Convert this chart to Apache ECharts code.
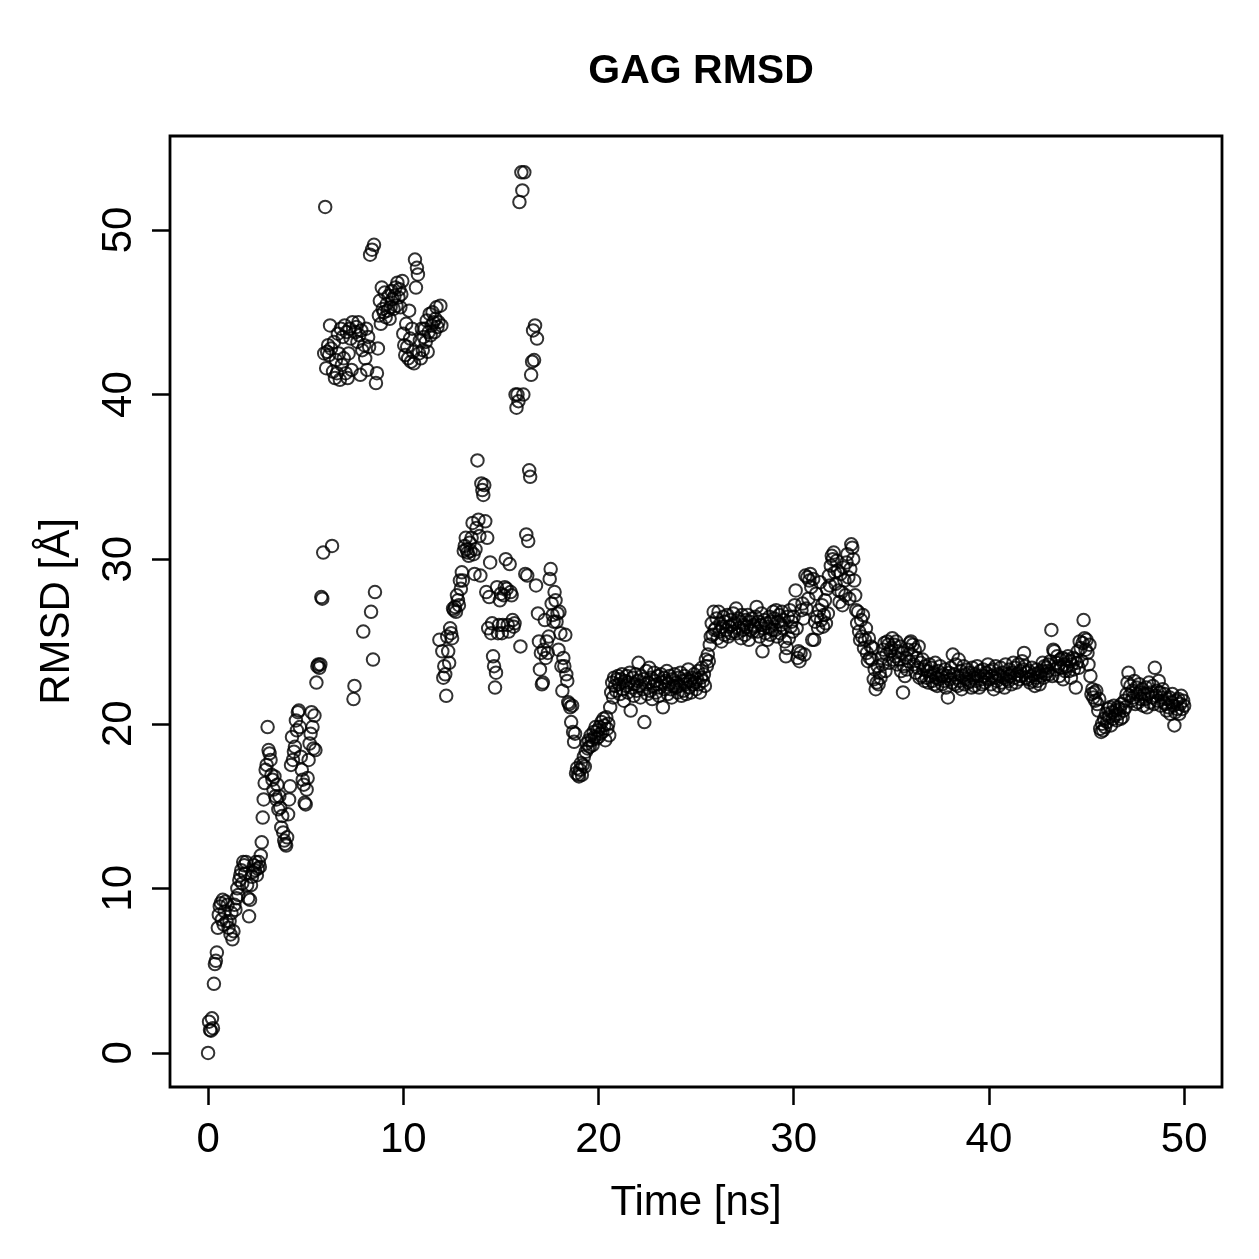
<!DOCTYPE html>
<html>
<head>
<meta charset="utf-8">
<script src="https://cdn.jsdelivr.net/npm/echarts@6/dist/echarts.min.js"></script>
<style>
  html, body { margin: 0; padding: 0; background: #fff; }
  #chart { width: 1259px; height: 1259px; }
</style>
</head>
<body>
<div id="chart"></div>
<script>
// RMSD sampled every 0.05 ns, one array per time block (start time in the name)
const step = 0.05;
const rmsd_00 = [
  0, 1.9, 1.4, 1.35, 2.1, 1.5, 4.2, 5.4, 5.6, 6.1, 7.6, 8.4, 8.9, 9.1, 8.1, 9.3, 7.8, 8.6, 9.2, 8.0,
  9.0, 7.6, 8.0, 7.2, 8.5, 6.9, 7.4, 9.0, 8.7, 9.4, 10.0, 9.6, 10.5, 10.8, 11.1, 10.3, 11.6, 11.4, 10.9, 11.6,
  10.2, 9.4, 8.3, 9.3, 10.2, 10.7, 11.0, 11.4, 11.1, 11.6, 10.8, 11.2, 11.6, 11.3, 12.0, 12.8, 14.3, 15.4, 16.4, 17.2,
  17.5, 19.8, 18.4, 18.2, 17.8, 16.9, 16.6, 16.0, 16.8, 15.6, 15.4, 16.3, 14.8, 15.6, 14.9, 13.7, 14.4, 13.4, 12.9, 12.7,
  12.6, 13.1, 14.5, 15.4, 16.2, 17.5, 19.2, 17.8, 18.3, 18.6, 20.2, 19.6, 20.7, 20.8, 19.8, 18.0, 17.2, 16.6, 16.3, 15.2,
  15.1, 16.0, 16.7, 17.8, 18.8, 19.4, 20.7, 19.8, 18.5, 20.5, 18.4, 22.5, 23.5, 23.6, 23.4, 23.6, 27.7, 27.6, 30.4, 42.5
];
const rmsd_06 = [
  51.4, 41.6, 42.6, 43.0, 42.4, 44.2, 42.8, 30.8, 41.4, 43.2, 41.0, 42.1, 41.3, 43.7, 42.5, 40.9, 44.0, 41.8, 43.5, 42.2,
  44.2, 41.3, 43.8, 41.0, 42.5, 44.0, 43.4, 41.5, 44.4, 21.5, 22.3, 43.8, 44.1, 43.2, 44.4, 43.6, 41.2, 43.9, 42.7, 25.6,
  43.0, 42.2, 44.0, 41.5, 43.5, 42.9, 48.5, 26.8, 48.8, 23.9, 49.1, 28.0, 40.7, 41.3, 42.8, 44.8, 45.7, 44.3, 46.5, 45.2,
  45.0, 46.2, 44.7, 45.5, 45.1, 46.0, 44.6, 45.3, 46.3, 45.8, 45.2, 46.0, 46.5, 45.4, 46.8, 45.9, 46.4, 45.3, 46.1, 46.9,
  43.7, 43.0, 42.4, 44.3, 42.9, 42.2, 45.1, 43.4, 42.0, 44.0, 42.6, 41.9, 48.2, 46.5, 47.7, 47.3, 42.5, 43.3, 42.2, 44.0,
  42.7, 43.5, 44.0, 43.2, 44.5, 42.6, 43.8, 44.9, 43.6, 44.2, 45.0, 44.4, 43.8, 44.6, 45.3, 44.1, 44.4, 25.1, 45.4, 44.2
];
const rmsd_12 = [
  24.4, 22.8, 23.5, 23.0, 21.7, 25.3, 24.4, 23.7, 25.8, 25.5, 25.2, 27.0, 26.9, 27.1, 26.8, 27.8, 27.5, 27.2, 28.7, 28.2,
  29.2, 28.7, 30.5, 30.8, 31.3, 30.6, 30.4, 30.2, 31.0, 30.5, 31.3, 32.2, 30.3, 29.1, 30.6, 31.9, 36.0, 32.4, 31.4, 29.0,
  34.6, 34.2, 33.9, 34.5, 32.3, 28.0, 31.3, 25.8, 27.7, 29.8, 25.5, 26.1, 24.1, 23.5, 22.2, 23.1, 28.3, 25.5, 26.0, 27.5,
  27.9, 25.5, 26.0, 27.8, 28.3, 30.0, 28.2, 26.0, 25.6, 29.7, 28.0, 27.8, 26.3, 25.9, 26.1, 40.0, 39.2, 40.0, 39.6, 51.7,
  24.7, 53.5, 52.4, 40.0, 53.5, 29.1, 31.5, 29.0, 31.1, 35.4, 35.0, 41.2, 42.0, 43.9, 42.1, 44.2, 28.4, 43.4, 26.7, 25.0,
  23.3, 24.3, 22.4, 22.5, 24.5, 26.3, 24.0, 25.0, 24.3, 25.3, 28.8, 29.4, 27.3, 26.6, 26.2, 28.0, 27.5, 26.2, 26.7, 24.5,
  26.8, 25.5, 23.5, 22.0, 24.0, 23.5, 25.4, 23.0, 22.6, 21.3, 21.2, 21.0, 20.1, 21.1, 19.5, 18.9, 19.4, 17.0, 17.3, 16.9
];
const rmsd_19 = [
  16.8, 17.2, 17.6, 16.9, 17.5, 18.0, 17.4, 18.3, 18.8, 18.5, 19.0, 18.6, 19.3, 19.0, 18.7, 19.5, 19.2, 19.8, 19.1, 19.6,
  19.2, 19.8, 19.4, 20.1, 19.5, 20.3, 19.9, 19.0, 20.4, 19.7, 20.0, 19.3, 21.0, 21.9, 22.5, 21.6, 22.8, 22.3, 22.0, 22.7,
  22.9, 22.4, 21.8, 22.7, 23.0, 22.1, 21.4, 22.6, 22.3, 22.9, 21.9, 22.5, 23.1, 20.8, 22.2, 22.8, 21.7, 22.4, 23.0, 22.0,
  22.6, 23.7, 22.3, 21.6, 22.9, 22.1, 22.7, 20.1, 22.4, 23.2, 21.8, 22.5, 23.4, 22.0, 22.8, 21.5, 22.3, 23.1, 22.6, 21.9,
  22.4, 22.9, 21.7, 22.2, 23.0, 22.5, 21.0, 22.8, 22.1, 22.6, 23.2, 21.8, 22.4, 22.9, 22.1, 21.6, 22.7, 22.3, 23.0, 22.2,
  22.5, 21.9, 22.8, 22.3, 23.1, 21.7, 22.6, 22.0, 22.9, 22.4, 21.8, 22.7, 23.3, 22.2, 22.6, 21.9, 22.8, 22.4, 23.0, 22.5,
  22.1, 22.7, 23.2, 22.4, 21.9, 22.8, 23.4, 22.6, 23.0, 22.3, 23.9, 23.5, 24.2, 23.8, 24.8, 25.3, 26.1, 25.4, 26.8, 25.7
];
const rmsd_26 = [
  25.8, 26.4, 25.2, 26.8, 25.6, 26.1, 25.0, 25.9, 26.5, 25.4, 26.2, 25.7, 26.6, 25.3, 25.9, 26.3, 25.5, 26.0, 26.7, 25.6,
  26.1, 27.0, 25.5, 26.4, 25.8, 26.2, 25.2, 26.6, 25.7, 26.0, 25.4, 26.3, 25.9, 26.6, 25.1, 26.2, 25.7, 26.4, 25.6, 26.0,
  25.9, 26.5, 27.1, 25.6, 26.2, 25.3, 26.0, 26.7, 24.4, 25.8, 26.3, 25.5, 26.1, 25.1, 25.9, 26.5, 25.4, 26.2, 25.7, 26.8,
  26.4, 25.7, 26.9, 25.3, 26.2, 26.6, 25.5, 26.0, 26.8, 25.8, 26.3, 25.0, 24.1, 24.6, 26.5, 25.2, 26.9, 25.9, 26.2, 25.6,
  26.5, 27.2, 28.1, 25.8, 24.0, 24.4, 23.8, 24.3, 26.9, 27.3, 26.4, 24.2, 29.0, 27.0, 28.9, 27.6, 28.7, 29.1, 28.3, 25.1,
  28.8, 25.1, 26.2, 27.9, 26.5, 25.8, 26.9, 28.6, 26.3, 27.2, 25.9, 26.6, 27.5, 26.1, 28.2, 26.7, 29.0, 28.4, 29.6, 30.2,
  30.0, 30.4, 29.2, 28.5, 29.9, 29.3, 28.1, 27.4, 29.1, 28.0, 27.2, 29.5, 28.7, 27.8, 29.8, 30.3, 28.9, 27.6, 29.4, 30.9,
  30.7, 30.0, 28.7, 27.8, 26.9, 26.1, 26.8, 25.6, 25.1, 26.3, 25.3, 26.6, 24.6, 25.1, 25.8, 24.3, 23.8, 25.2, 24.0, 24.7
];
const rmsd_34 = [
  23.9, 24.6, 22.7, 23.3, 22.1, 22.5, 23.5, 22.4, 23.1, 22.8, 24.0, 23.6, 24.5, 24.9, 23.2, 24.2, 25.0, 24.8, 23.7, 24.4,
  24.6, 25.2, 23.9, 24.8, 24.1, 25.0, 23.6, 24.4, 23.9, 24.7, 23.2, 24.3, 21.9, 23.5, 22.9, 24.0, 23.3, 24.5, 23.8, 24.9,
  25.0, 24.2, 24.8, 23.6, 24.5, 23.1, 24.0, 23.4, 24.7, 22.8, 23.7, 22.9, 23.9, 23.3, 22.6, 23.5, 22.8, 23.2, 22.5, 23.6,
  22.9, 23.4, 22.6, 23.1, 22.4, 23.7, 22.8, 22.3, 23.2, 22.7, 23.5, 22.9, 22.4, 23.0, 22.6, 23.3, 22.2, 22.9, 21.6, 23.1,
  22.7, 23.4, 22.5, 24.2, 23.0, 22.4, 23.6, 22.8, 22.3, 23.9, 22.6, 23.2, 22.1, 22.9, 23.5, 22.4, 23.0, 22.7, 23.3, 22.5,
  23.1, 22.6, 22.2, 23.4, 22.8, 22.3, 23.0, 22.6, 23.5, 22.9, 22.2, 23.2, 22.7, 22.4, 23.3, 22.9, 22.5, 23.1, 22.8, 23.6,
  22.7, 23.2, 22.4, 22.9, 23.3, 22.1, 22.8, 23.5, 22.6, 23.0, 22.3, 22.9, 23.4, 22.5, 23.1, 22.8, 22.2, 23.6, 22.7, 23.0,
  22.6, 23.3, 22.9, 22.4, 23.1, 23.7, 22.8, 23.4, 22.5, 23.0, 23.6, 22.7, 23.2, 22.9, 23.8, 23.3, 24.3, 23.5, 22.8, 23.1
];
const rmsd_42 = [
  22.7, 23.2, 22.5, 22.9, 23.4, 22.6, 23.0, 22.3, 22.8, 23.3, 22.6, 23.1, 22.4, 22.9, 23.2, 23.7, 22.8, 23.5, 23.0, 23.4,
  23.2, 23.6, 23.0, 23.8, 25.7, 22.9, 24.5, 24.4, 23.3, 23.7, 24.1, 23.5, 22.9, 23.9, 23.4, 24.0, 22.7, 23.6, 23.2, 23.9,
  23.5, 24.1, 23.2, 23.8, 22.8, 23.6, 24.0, 23.3, 23.9, 22.2, 23.7, 24.4, 23.4, 25.0, 24.6, 23.8, 24.9, 26.3, 25.2, 24.5,
  25.1, 24.3, 23.6, 24.8, 22.9, 21.8, 22.1, 21.6, 21.9, 21.4, 22.0, 21.2, 20.8, 21.5, 19.7, 19.5, 20.0, 19.6, 20.3, 19.8,
  20.6, 20.1, 20.9, 20.4, 21.0, 19.9, 20.7, 20.3, 21.1, 20.5, 20.8, 20.2, 21.0, 20.6, 20.9, 20.3, 21.2, 20.4, 20.8, 21.4,
  21.0, 21.8, 22.5, 23.1, 21.7, 22.3, 21.4, 22.0, 21.6, 22.6, 21.2, 22.2, 21.8, 21.3, 22.4, 21.9, 21.5, 22.1, 21.1, 21.8,
  21.5, 22.2, 21.0, 21.8, 22.5, 21.3, 21.9, 21.6, 22.3, 21.2, 23.4, 21.7, 22.0, 21.4, 22.6, 21.9, 21.1, 21.6, 22.1, 21.3,
  21.8, 21.2, 20.8, 21.5, 21.0, 21.6, 20.6, 21.3, 21.8, 21.1, 19.9, 20.7, 21.4, 20.9, 21.5, 20.6, 21.2, 21.7, 20.9, 21.4, 21.1
];
const blocks = [[0, rmsd_00], [6, rmsd_06], [12, rmsd_12], [19, rmsd_19], [26, rmsd_26], [34, rmsd_34], [42, rmsd_42]];

const xTicks = [0, 10, 20, 30, 40, 50];
const yTicks = [0, 10, 20, 30, 40, 50];

const points = [];
blocks.forEach(function (b) {
  b[1].forEach(function (v, i) {
    points.push([+(b[0] + i * step).toFixed(2), v]);
  });
});

const font = '"Liberation Sans", Arial, Helvetica, sans-serif';
const chart = echarts.init(document.getElementById('chart'));
chart.setOption({
  animation: false,
  backgroundColor: '#fff',
  title: {
    text: 'GAG RMSD',
    left: 696,
    textAlign: 'center',
    top: 46,
    textStyle: { fontSize: 41, fontWeight: 'bold', color: '#000', fontFamily: font }
  },
  grid: {
    left: 170, right: 37, top: 136, bottom: 172,
    show: true, borderColor: '#000', borderWidth: 2.8, backgroundColor: 'transparent'
  },
  xAxis: {
    type: 'value',
    min: -1.95, max: 51.94,
    splitLine: { show: false },
    axisLine: { show: false, onZero: false },
    axisTick: { show: true, length: 18, customValues: xTicks, lineStyle: { color: '#000', width: 2.5 } },
    axisLabel: { customValues: xTicks, margin: 32, fontSize: 42, color: '#000', fontFamily: font },
    name: 'Time [ns]',
    nameLocation: 'middle',
    nameGap: 95,
    nameTextStyle: { fontSize: 42, color: '#000', fontFamily: font }
  },
  yAxis: {
    type: 'value',
    min: -2.07, max: 55.71,
    splitLine: { show: false },
    axisLine: { show: false, onZero: false },
    axisTick: { show: true, length: 18, customValues: yTicks, lineStyle: { color: '#000', width: 2.5 } },
    axisLabel: { customValues: yTicks, margin: 30, rotate: 90, fontSize: 42, color: '#000', fontFamily: font },
    name: 'RMSD [Å]',
    nameLocation: 'middle',
    nameGap: 92,
    nameTextStyle: { fontSize: 42, color: '#000', fontFamily: font }
  },
  series: [{
    type: 'scatter',
    data: points,
    symbol: 'circle',
    symbolSize: 12.5,
    silent: true,
    itemStyle: { color: 'rgba(0,0,0,0)', borderColor: '#000', borderWidth: 2 }
  }]
});
</script>
</body>
</html>
